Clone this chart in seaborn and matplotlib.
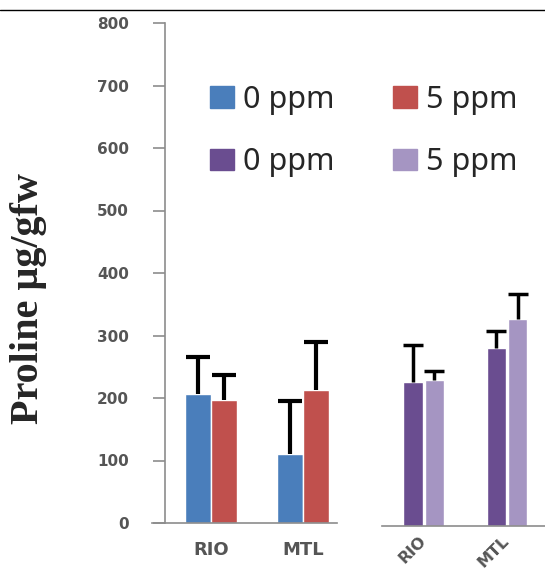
import seaborn as sns
import matplotlib.pyplot as plt
from matplotlib.patches import Patch
from matplotlib.lines import Line2D
import numpy as np
import pandas as pd

# values (proline, ug/gfw)
samples = ['RIO', 'MTL']
doses = ['0 ppm', '5 ppm']

left_0ppm = [206, 110]
left_5ppm = [197, 213]
left_0ppm_err = [60, 85]
left_5ppm_err = [40, 77]

right_0ppm = [230, 285]
right_5ppm = [234, 331]
right_0ppm_err = [60, 27]
right_5ppm_err = [14, 40]

blue, red = '#4a7ebb', '#c0504d'
purple, lilac = '#6a4d90', '#a595c2'
tick_grey = '#555555'
axis_grey = '#8c8c8c'


def make_df(v0, v5):
    return pd.DataFrame({'sample': samples * 2,
                         'ppm': [doses[0]] * 2 + [doses[1]] * 2,
                         'proline': v0 + v5})


def draw_panel(ax, df, colors, errs, width, gap, capsize, lw):
    sns.barplot(data=df, x='sample', y='proline', hue='ppm', palette=colors,
                errorbar=None, width=width, gap=gap, ax=ax, legend=False,
                saturation=1)
    for cont, err in zip(ax.containers, errs):
        xs = [b.get_x() + b.get_width() / 2 for b in cont]
        ys = [b.get_height() for b in cont]
        eb = ax.errorbar(xs, ys, yerr=[[0] * len(err), err], fmt='none',
                         ecolor='black', elinewidth=lw, capsize=capsize,
                         capthick=lw, zorder=1)
        # only the upper cap is drawn in the original
        for cap in eb[1]:
            if np.allclose(cap.get_ydata(), ys):
                cap.set_visible(False)
    ax.set_xlabel('')
    ax.set_ylabel('')
    ax.set_ylim(0, 800)
    for s in ['top', 'right']:
        ax.spines[s].set_visible(False)
    ax.spines['bottom'].set_color(axis_grey)
    ax.spines['left'].set_color(axis_grey)
    ax.spines['bottom'].set_linewidth(1.2)
    ax.spines['left'].set_linewidth(1.2)
    ax.tick_params(axis='x', length=0, colors=tick_grey, labelsize=13)
    ax.set_xticks([0.5], minor=True)
    ax.tick_params(axis='x', which='minor', length=5, color=axis_grey)


sns.set_style('white')
plt.rcParams['font.family'] = ['DejaVu Sans']

fig = plt.figure(figsize=(5.45, 5.74), dpi=100)
W, H = 545, 574

ax1 = fig.add_axes([152 / W, 1 - 523 / H, 185 / W, 500 / H])
ax2 = fig.add_axes([382 / W, 1 - 526 / H, 163 / W, 500 / H])

draw_panel(ax1, make_df(left_0ppm, left_5ppm), [blue, red],
           [left_0ppm_err, left_5ppm_err], 0.56, 0, 8.3, 3)
ax1.set_xlim(-0.64, 1.37)
ax1.spines['left'].set_position(('data', -0.5))
ax1.set_yticks(range(0, 801, 100))
ax1.tick_params(axis='y', length=9, width=1.2, direction='out', left=True,
                color=axis_grey, colors=tick_grey, labelsize=11, pad=17)
for lab in ax1.get_yticklabels():
    lab.set_fontweight('bold')
for lab in ax1.get_xticklabels():
    lab.set_fontweight('bold')
ax1.tick_params(axis='x', pad=13)

draw_panel(ax2, make_df(right_0ppm, right_5ppm), [purple, lilac],
           [right_0ppm_err, right_5ppm_err], 0.515, 0.1, 7.5, 2.5)
ax2.set_xlim(-0.5, 1.455)
ax2.spines['left'].set_visible(False)
ax2.set_yticks([])
ax2.set_xticks([-0.5, 0.5], minor=True)
ax2.tick_params(axis='x', pad=9, labelsize=11.5)
for lab in ax2.get_xticklabels():
    lab.set_rotation(45)
    lab.set_ha('right')
    lab.set_va('center')
    lab.set_rotation_mode('anchor')
    lab.set_fontweight('bold')

fig.text(29 / W, 1 - 298 / H, 'Proline μg/gfw', rotation=90, ha='center',
         va='center', fontsize=29, fontweight='bold',
         family='Liberation Serif')

handles = [Patch(color=blue), Patch(color=purple),
           Patch(color=red), Patch(color=lilac)]
labels = ['0 ppm', '0 ppm', '5 ppm', '5 ppm']
fig.legend(handles, labels, ncol=2, frameon=False,
           prop={'family': 'Noto Sans', 'size': 22},
           loc='upper left', bbox_to_anchor=(210 / W, 1 - 85 / H),
           handlelength=0.8, handleheight=0.72, handletextpad=0.28,
           columnspacing=1.9, labelspacing=1.05, borderaxespad=0,
           borderpad=0)

fig.add_artist(Line2D([0, 1], [1 - 10 / H, 1 - 10 / H], color='black',
                      lw=1, transform=fig.transFigure))

fig.savefig('out.png', dpi=100)
